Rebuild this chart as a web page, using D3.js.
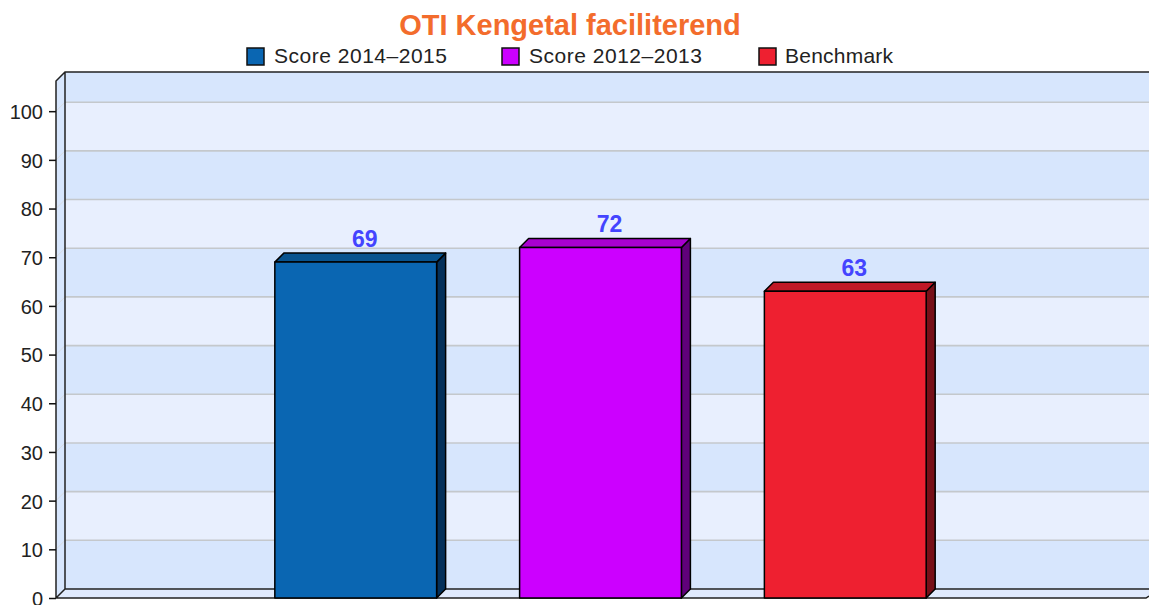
<!DOCTYPE html>
<html>
<head>
<meta charset="utf-8">
<script src="https://cdn.jsdelivr.net/npm/d3@7.9.0/dist/d3.min.js"></script>
<style>
  html, body { margin: 0; padding: 0; background: #fff; }
  svg { display: block; font-family: "Liberation Sans", Arial, sans-serif; }
</style>
</head>
<body>
<svg id="chart" width="1149" height="605"></svg>
<script>
const chartTitle = 'OTI Kengetal faciliterend';
const seriesNames = ['Score 2014–2015', 'Score 2012–2013', 'Benchmark'];
const seriesValues = [69, 72, 63];
const seriesColors = ['#0a66b2', '#cc00ff', '#ee2030'];
const sideColors = ['#04305a', '#60007a', '#771018'];
const topColors = ['#08538f', '#a800d0', '#c01826'];
const yTicks = [0, 10, 20, 30, 40, 50, 60, 70, 80, 90, 100];

const depth = 9;
const svg = d3.select('#chart');

const y = d3.scaleLinear().domain([0, 106.2]).range([598, 81]);
const x = d3.scaleBand()
  .domain(seriesNames)
  .range([56, 1145])
  .paddingInner(0.339)
  .paddingOuter(0.894);

const left = 56;
const right = 1160;
const wallTop = y.range()[1] - depth;
const wallBottom = y(0) - depth;

// back wall bands, every other one darker
const bandEdges = [...yTicks, y.domain()[1]];
svg.append('g')
  .selectAll('rect')
  .data(d3.pairs(bandEdges))
  .join('rect')
  .attr('x', left + depth)
  .attr('width', right - left - depth)
  .attr('y', (d) => y(d[1]) - depth)
  .attr('height', (d) => y(d[0]) - y(d[1]))
  .attr('fill', (d, i) => (i % 2 === 0 ? '#d7e6fd' : '#e8effe'));

// left wall
svg.append('path')
  .attr('d', `M${left},${y.range()[1]}L${left + depth},${wallTop}V${wallBottom}L${left},${y(0)}Z`)
  .attr('fill', '#d7e6fd');

// floor
svg.append('path')
  .attr('d', `M${left},${y(0)}L${left + depth},${wallBottom}H1149V${wallBottom + 7}L1146,${y(0)}Z`)
  .attr('fill', '#e0eafd');

// gridlines, wall and the slanted bit on the left side
const grid = svg.append('g').attr('fill', 'none');
grid.selectAll('line.back')
  .data(yTicks.slice(1))
  .join('line')
  .attr('class', 'back')
  .attr('x1', left + depth)
  .attr('x2', right)
  .attr('y1', (d) => y(d) - depth)
  .attr('y2', (d) => y(d) - depth)
  .attr('stroke', '#c4c8cc')
  .attr('stroke-width', 1.6);
grid.selectAll('line.side')
  .data(yTicks.slice(1))
  .join('line')
  .attr('class', 'side')
  .attr('x1', left)
  .attr('x2', left + depth)
  .attr('y1', (d) => y(d))
  .attr('y2', (d) => y(d) - depth)
  .attr('stroke', '#d8dce2');

// frame
svg.append('path')
  .attr('d', `M${left},${y(0)}V${y.range()[1]}L${left + depth},${wallTop}H${right}M${left + depth},${wallTop}V${wallBottom}H${right}M${left},${y(0)}L${left + depth},${wallBottom}M${left},${y(0)}H1146L1149,${wallBottom + 7}`)
  .attr('fill', 'none')
  .attr('stroke', '#222')
  .attr('stroke-width', 1.5);

// y axis
const yAxis = svg.append('g')
  .attr('transform', `translate(${left},0)`)
  .call(d3.axisLeft(y).tickValues(yTicks).tickSize(7).tickSizeOuter(0).tickPadding(6));
yAxis.select('.domain').remove();
yAxis.selectAll('.tick line').attr('stroke', '#111').attr('stroke-width', 1.5);
yAxis.selectAll('.tick text')
  .attr('fill', '#222')
  .attr('font-size', 20)
  .attr('y', 1)
  .attr('font-family', '"Liberation Sans", Arial, sans-serif');

// bars: front, top and side faces
const bars = svg.append('g')
  .selectAll('g')
  .data(seriesNames.map((name, i) => ({ name, value: seriesValues[i], i })))
  .join('g')
  .attr('stroke', '#000')
  .attr('stroke-width', 1.5)
  .attr('stroke-linejoin', 'round');

bars.append('path')
  .attr('fill', (d) => sideColors[d.i])
  .attr('d', (d) => {
    const x1 = x(d.name) + x.bandwidth();
    return `M${x1},${y(d.value)}l${depth},${-depth}V${y(0) - depth}L${x1},${y(0)}Z`;
  });
bars.append('path')
  .attr('fill', (d) => topColors[d.i])
  .attr('d', (d) => `M${x(d.name)},${y(d.value)}l${depth},${-depth}h${x.bandwidth()}l${-depth},${depth}Z`);
bars.append('rect')
  .attr('fill', (d) => seriesColors[d.i])
  .attr('x', (d) => x(d.name))
  .attr('y', (d) => y(d.value))
  .attr('width', x.bandwidth())
  .attr('height', (d) => y(0) - y(d.value));

// value labels
svg.append('g')
  .selectAll('text')
  .data(seriesNames.map((name, i) => ({ name, value: seriesValues[i] })))
  .join('text')
  .attr('x', (d) => x(d.name) + x.bandwidth() / 2 + depth)
  .attr('y', (d) => y(d.value) - depth - 6)
  .attr('text-anchor', 'middle')
  .attr('font-size', 23)
  .attr('font-weight', 'bold')
  .attr('fill', '#4444ff')
  .text((d) => d.value);

// title
svg.append('text')
  .attr('x', 570)
  .attr('y', 35)
  .attr('text-anchor', 'middle')
  .attr('font-size', 29)
  .attr('font-weight', 'bold')
  .attr('fill', '#f36c2c')
  .text(chartTitle);

// legend
const legendX = d3.scaleOrdinal().domain(seriesNames).range([247, 502, 759]);
const legendWidths = [173, 173, 108];
const legend = svg.append('g')
  .selectAll('g')
  .data(seriesNames)
  .join('g')
  .attr('transform', (d) => `translate(${legendX(d)},48)`);
legend.append('rect')
  .attr('width', 17)
  .attr('height', 17)
  .attr('fill', (d, i) => seriesColors[i])
  .attr('stroke', '#111')
  .attr('stroke-width', 1.5);
legend.append('text')
  .attr('x', (d, i) => (i === 2 ? 26 : 27))
  .attr('y', 15)
  .attr('font-size', 21)
  .attr('fill', '#222')
  .attr('textLength', (d, i) => legendWidths[i])
  .text((d) => d);
</script>
</body>
</html>
